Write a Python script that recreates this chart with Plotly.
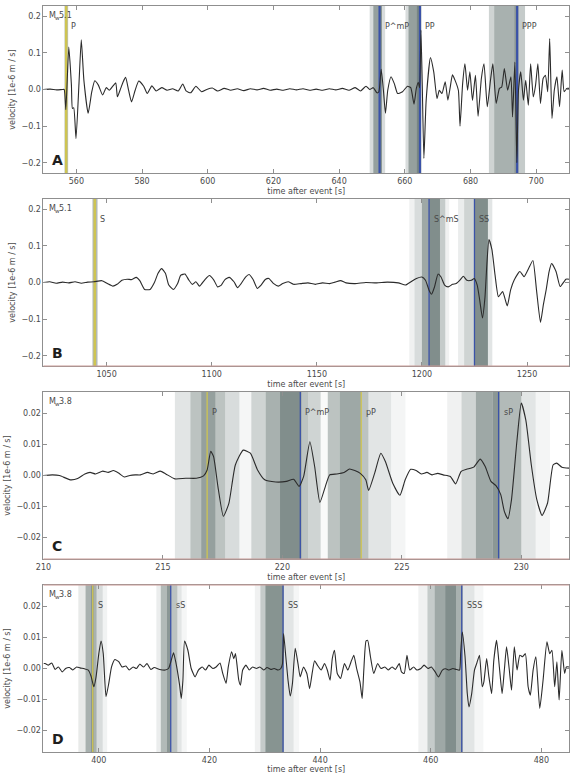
import plotly.graph_objects as go

# ---------------- Panel A (M_w 5.1, P phases) ----------------
A_time = [550.0, 552.0, 554.0, 555.8, 556.3, 556.8, 557.7, 558.5, 558.8, 559.2, 559.9, 560.8, 561.5, 562.3,
          563.6, 564.7, 565.6, 566.7, 568.0, 569.1, 570.0, 571.1, 572.0, 572.5, 573.5, 574.2, 575.0, 575.9,
          576.8, 577.9, 579.0, 580.5, 581.6, 583.0, 584.3, 586.0, 587.6, 589.3, 591.0, 592.4, 593.4, 594.8,
          596.4, 598.1, 599.7, 601.4, 603.0, 605.0, 607.0, 609.0, 611.0, 613.0, 615.0, 617.0, 619.0, 621.0,
          623.0, 625.0, 627.0, 629.0, 631.0, 633.0, 635.0, 637.0, 639.0, 641.0, 643.0, 644.9, 646.5, 648.2,
          649.3, 650.4, 651.5, 652.1, 652.8, 653.5, 654.1, 654.8, 655.8, 656.8, 657.8, 659.3, 660.8, 661.8,
          662.8, 663.5, 664.1, 664.5, 664.9, 665.3, 665.8, 666.5, 667.8, 668.8, 669.8, 670.5, 671.3, 672.3,
          673.1, 673.8, 674.5, 675.3, 676.3, 676.8, 677.6, 678.3, 679.1, 679.8, 680.6, 681.5, 682.3, 683.3,
          684.1, 685.1, 686.1, 686.8, 687.8, 688.8, 689.5, 690.3, 691.3, 692.3, 692.8, 693.5, 694.1, 694.6,
          695.3, 696.1, 696.8, 697.6, 698.3, 699.1, 699.8, 700.5, 701.3, 702.1, 702.8, 703.5, 704.1, 704.8,
          705.5, 706.3, 707.1, 707.9, 708.5, 709.3, 710.0]
A_vel = [0.0, 0.001, -0.001, 0.0, 0.0, -0.055, 0.116, 0.012, -0.052, -0.05, -0.134, 0.016, 0.136, 0.025,
         -0.065, -0.006, 0.024, 0.012, -0.015, 0.005, -0.002, 0.009, 0.018, -0.02, 0.003, 0.02, 0.033, -0.002,
         -0.034, -0.002, 0.023, 0.009, -0.011, 0.010, -0.004, 0.005, -0.002, 0.002, -0.004, 0.015, -0.004, -0.009,
         0.009, -0.006, 0.0, 0.004, -0.004, 0.003, -0.002, 0.002, -0.003, 0.002, -0.001, 0.003, -0.002, 0.001,
         -0.002, 0.002, -0.001, 0.002, -0.002, 0.001, -0.002, 0.002, -0.001, 0.003, -0.002, 0.005, -0.004, 0.009,
         0.0, 0.005, -0.009, -0.006, 0.055, -0.004, -0.065, -0.002, 0.035, 0.016, -0.011, -0.006, 0.009, 0.005,
         -0.04, 0.003, 0.02, 0.005, 0.162, 0.016, -0.188, -0.029, 0.087, 0.048, -0.025, -0.002, -0.011, 0.021,
         -0.029, 0.005, 0.04, 0.025, -0.002, -0.1, 0.016, 0.07, -0.002, 0.048, -0.03, 0.039, -0.073, 0.03,
         0.07, -0.047, 0.027, 0.07, -0.038, 0.003, 0.007, 0.057, -0.002, 0.035, -0.075, 0.075, -0.2, -0.002,
         0.048, -0.029, 0.025, -0.043, 0.07, -0.02, 0.012, 0.07, -0.038, 0.03, 0.039, -0.006, 0.139, -0.079,
         -0.002, 0.035, -0.047, 0.053, -0.006, 0.003, 0.003]
A_phase_names = ["P", "P^mP", "PP", "PPP"]
A_phase_times = [556.9, 652.3, 664.6, 694.2]
A_phase_colors = ["yellow", "blue", "blue", "blue"]
A_band_start = [556.4, 649.3, 650.4, 652.0, 653.0, 660.2, 661.1, 663.5, 664.6, 685.6, 687.2, 693.3, 694.6]
A_band_end = [557.5, 650.4, 652.0, 653.0, 654.0, 661.1, 663.5, 664.6, 665.2, 687.2, 693.3, 694.6, 696.6]
A_band_alpha = [0.35, 0.2, 0.55, 0.7, 0.2, 0.2, 0.55, 0.7, 0.2, 0.25, 0.45, 0.6, 0.3]

# ---------------- Panel B (M_w 5.1, S phases) ----------------
B_time = [1020.0, 1023.0, 1026.0, 1029.0, 1032.0, 1035.0, 1038.0, 1041.0, 1044.0, 1047.8, 1050.4, 1053.0,
          1055.0, 1057.3, 1059.8, 1062.0, 1064.1, 1065.8, 1068.1, 1070.7, 1072.7, 1074.5, 1076.2, 1078.0,
          1079.6, 1081.8, 1083.8, 1085.3, 1087.3, 1089.0, 1090.8, 1092.5, 1094.2, 1096.8, 1098.9, 1101.1,
          1102.8, 1104.6, 1106.3, 1108.3, 1110.6, 1112.3, 1114.0, 1116.1, 1117.8, 1119.7, 1121.7, 1123.5,
          1125.5, 1127.2, 1129.5, 1131.7, 1133.8, 1136.4, 1138.9, 1142.4, 1145.8, 1149.3, 1152.7, 1156.1,
          1158.7, 1161.3, 1163.9, 1168.2, 1173.3, 1178.5, 1183.6, 1188.8, 1192.2, 1194.8, 1197.4, 1200.0,
          1201.7, 1203.4, 1204.6, 1206.0, 1207.7, 1209.1, 1210.8, 1212.5, 1214.6, 1216.3, 1218.0, 1219.7,
          1221.4, 1223.5, 1224.9, 1226.3, 1227.5, 1228.8, 1230.0, 1230.9, 1231.9, 1233.3, 1234.8, 1236.4,
          1238.4, 1240.6, 1242.2, 1243.9, 1246.6, 1248.6, 1250.8, 1252.8, 1254.5, 1256.4, 1257.8, 1259.1,
          1260.5, 1261.7, 1263.8, 1265.8, 1268.5, 1270.0]
B_vel = [0.0, 0.002, -0.002, 0.001, -0.001, 0.002, -0.002, 0.001, 0.002, 0.005, -0.003, -0.01,
         -0.005, 0.006, 0.009, 0.008, 0.014, 0.005, -0.019, -0.019, -0.001, 0.025, 0.038, 0.025,
         -0.007, -0.019, -0.003, 0.02, 0.023, 0.008, -0.005, 0.002, -0.01, 0.008, 0.019, 0.006,
         -0.012, -0.007, 0.008, 0.014, 0.002, -0.014, -0.003, 0.015, 0.022, 0.008, -0.016, -0.007,
         0.008, 0.011, -0.003, -0.01, -0.003, 0.002, -0.005, -0.003, -0.001, -0.005, -0.001, -0.003,
         0.001, 0.005, -0.001, -0.003, 0.0, -0.001, 0.001, -0.001, -0.007, 0.002, 0.011, 0.015,
         0.006, -0.021, -0.032, -0.012, 0.023, 0.015, -0.007, -0.012, -0.005, -0.003, 0.006, 0.017,
         0.006, 0.006, 0.011, -0.007, -0.048, -0.097, -0.04, 0.05, 0.117, 0.09, 0.02, -0.039,
         -0.025, -0.064, -0.02, 0.007, 0.03, 0.016, 0.039, 0.06, -0.02, -0.109, -0.06, -0.02,
         0.03, 0.052, 0.03, -0.011, 0.009, 0.009]
B_phase_names = ["S", "S^mS", "SS"]
B_phase_times = [1044.4, 1203.4, 1225.0]
B_phase_colors = ["yellow", "blue", "blue"]
B_band_start = [1043.3, 1194.0, 1196.5, 1200.0, 1203.4, 1208.6, 1211.1, 1217.2, 1220.1, 1225.0, 1231.4]
B_band_end = [1045.7, 1196.5, 1200.0, 1203.4, 1208.6, 1211.1, 1213.0, 1220.1, 1225.0, 1231.4, 1233.5]
B_band_alpha = [0.4, 0.08, 0.2, 0.5, 0.65, 0.3, 0.08, 0.1, 0.25, 0.65, 0.15]

# ---------------- Panel C (M_w 3.8, P phases) ----------------
C_time = [210.0, 210.37, 210.67, 211.12, 211.43, 211.73, 211.95, 212.18, 212.48, 212.71, 212.93, 213.16,
          213.38, 213.61, 213.84, 214.06, 214.36, 214.59, 214.89, 215.12, 215.5, 215.95, 216.4, 216.7,
          216.85, 217.0, 217.12, 217.3, 217.53, 217.76, 218.03, 218.36, 218.66, 218.96, 219.26, 219.72,
          220.17, 220.47, 220.7, 220.89, 221.15, 221.35, 221.57, 221.8, 221.98, 222.28, 222.58, 222.81,
          223.03, 223.26, 223.49, 223.61, 223.86, 224.12, 224.31, 224.62, 224.92, 225.14, 225.37, 225.6,
          225.82, 226.05, 226.27, 226.5, 226.73, 227.03, 227.25, 227.48, 227.71, 228.01, 228.28, 228.49,
          228.73, 228.94, 229.14, 229.29, 229.44, 229.59, 229.82, 230.0, 230.19, 230.42, 230.65, 230.87,
          231.1, 231.33, 231.48, 231.7, 232.0]
C_vel = [0.0, 0.0002, 0.0, -0.0014, -0.001, 0.0005, 0.001, 0.0005, 0.0014, 0.001, 0.0016, 0.0007,
         -0.0005, 0.0, 0.0002, 0.0002, 0.001, 0.0005, 0.0014, 0.0005, -0.0011, -0.0009, -0.0009, -0.0001,
         0.0018, 0.0078, 0.0061, -0.0035, -0.0132, -0.009, 0.0034, 0.0082, 0.0072, 0.0018, -0.0014, -0.0021,
         -0.0019, -0.0012, -0.0035, -0.0003, 0.0109, 0.0029, -0.0087, -0.0035, 0.0002, 0.0005, 0.001, 0.0021,
         0.0016, 0.0007, -0.0014, -0.0048, 0.0007, 0.0072, 0.0045, -0.0025, -0.0064, -0.0014, 0.002, 0.0016,
         0.0005, 0.001, 0.0002, 0.0007, 0.0002, -0.0003, -0.0027, 0.0013, 0.002, 0.0027, 0.0053, 0.0029,
         -0.0019, -0.0033, -0.0062, -0.0116, -0.014, -0.0078, 0.0114, 0.0234, 0.0179, 0.0034, -0.0078, -0.0129,
         -0.0089, 0.0034, 0.004, 0.0027, 0.0024]
C_phase_names = ["P", "P^mP", "pP", "sP"]
C_phase_times = [216.85, 220.75, 223.3, 229.05]
C_phase_colors = ["yellow", "blue", "yellow", "blue"]
C_band_start = [215.5, 216.15, 216.6, 217.2, 217.6, 218.2, 218.7, 219.3, 219.9, 220.8, 221.07, 221.6, 221.9,
                222.4, 223.3, 223.6, 224.55, 226.9, 227.5, 228.1, 228.8, 229.1, 230.0, 230.6]
C_band_end = [216.15, 216.6, 217.2, 217.6, 218.2, 218.7, 219.3, 219.9, 220.8, 221.07, 221.6, 221.9, 222.4,
              223.3, 223.6, 224.55, 225.15, 227.5, 228.1, 228.8, 229.1, 230.0, 230.6, 231.2]
C_band_alpha = [0.15, 0.35, 0.55, 0.35, 0.2, 0.05, 0.25, 0.45, 0.65, 0.35, 0.25, 0.03, 0.35,
                0.5, 0.35, 0.15, 0.06, 0.08, 0.25, 0.5, 0.6, 0.4, 0.15, 0.06]

# ---------------- Panel D (M_w 3.8, S phases) ----------------
D_time = [390.0, 390.3, 390.9, 391.5, 392.1, 392.7, 393.4, 394.0, 394.7, 395.3, 396.0, 396.6, 397.4, 398.1,
          398.6, 399.1, 399.5, 400.0, 400.4, 400.8, 401.3, 401.8, 402.3, 402.9, 403.6, 404.2, 404.9, 405.5,
          406.2, 406.8, 407.4, 408.1, 408.7, 409.4, 410.0, 411.0, 412.0, 412.6, 413.1, 413.5, 413.9, 414.6,
          414.9, 415.2, 415.5, 416.1, 416.7, 417.4, 418.0, 418.7, 419.3, 419.9, 420.6, 421.2, 421.9, 422.4,
          423.0, 423.4, 424.0, 424.4, 424.7, 425.3, 425.6, 426.0, 426.6, 427.2, 427.8, 428.5, 429.1, 429.8,
          430.4, 431.1, 431.7, 432.4, 432.9, 433.2, 433.4, 433.8, 434.2, 434.6, 435.0, 435.5, 436.0, 436.4,
          437.0, 437.6, 438.1, 438.6, 439.0, 439.5, 440.2, 440.8, 441.3, 441.8, 442.2, 442.6, 443.1, 443.7,
          444.4, 445.0, 445.7, 446.1, 446.6, 447.2, 447.6, 447.9, 448.3, 448.6, 449.1, 449.7, 450.4, 451.0,
          451.7, 452.3, 453.0, 453.6, 454.3, 454.7, 455.2, 455.7, 456.2, 456.9, 457.5, 458.2, 458.8, 459.5,
          460.1, 460.8, 461.4, 462.1, 462.7, 463.3, 464.0, 464.6, 465.2, 465.4, 465.7, 466.2, 466.6, 466.9,
          467.4, 467.9, 468.3, 468.8, 469.3, 469.6, 470.1, 470.5, 471.0, 471.4, 471.9, 472.4, 472.9, 473.3,
          473.7, 474.2, 474.6, 475.1, 475.6, 476.1, 476.6, 477.1, 477.6, 478.0, 478.5, 479.0, 479.7, 480.3,
          481.0, 481.5, 481.9, 482.4, 482.8, 483.2, 483.7, 484.2, 484.5, 485.0]
D_vel = [0.0016, 0.0016, 0.0011, 0.0018, -0.0003, 0.0005, -0.0011, 0.0, 0.0003, -0.0005, 0.0005, 0.0002, -0.0001, -0.0005,
         -0.0025, -0.0059, -0.0027, 0.0048, 0.0089, 0.0048, -0.0091, -0.0048, 0.0005, 0.0029, 0.0022, 0.0005, 0.0008, -0.0005,
         0.0005, 0.0, 0.0014, 0.0005, 0.0016, -0.0003, 0.0003, -0.0003, -0.0005, 0.0, 0.0027, 0.0051, 0.0022, -0.0054,
         -0.0097, -0.0038, 0.0089, 0.0059, 0.0, -0.0027, -0.0005, 0.0005, -0.0005, 0.0011, 0.0, 0.0005, 0.0018, -0.0016,
         -0.0048, 0.0005, 0.0054, 0.0032, 0.0048, -0.0038, -0.0054, -0.0005, 0.0011, -0.0005, 0.0005, 0.0, 0.0005, -0.0005,
         0.0003, -0.0003, 0.0, -0.0005, 0.0, 0.0016, 0.0113, 0.0038, -0.0038, -0.0089, -0.0048, 0.0065, 0.0016, -0.0027,
         0.0005, -0.0016, -0.0065, -0.0011, 0.0025, 0.0011, -0.0005, 0.0016, -0.0005, -0.0038, 0.0032, 0.0059, -0.0016, -0.0032,
         0.0016, -0.0005, 0.0027, 0.0043, 0.0, -0.0043, -0.0097, -0.0005, 0.0089, 0.0091, 0.0038, -0.0016, 0.0016, 0.0,
         0.0005, -0.0005, 0.0005, -0.0003, 0.0016, -0.0011, -0.0016, 0.0043, -0.0005, 0.0005, -0.0005, 0.0, 0.0011, 0.0,
         0.0005, -0.0011, -0.0027, -0.0005, -0.0001, -0.0005, 0.0, -0.0003, -0.0005, 0.0048, 0.0118, 0.0038, -0.0081, -0.0124,
         -0.0081, -0.0005, 0.0016, 0.0043, -0.0059, -0.0043, 0.0032, -0.0025, -0.0081, 0.0027, 0.0091, 0.0005, -0.0081, -0.0005,
         0.007, -0.0005, -0.007, 0.007, -0.0005, 0.0043, 0.0038, 0.0048, -0.0059, -0.0086, -0.0005, 0.0038, -0.0129, -0.0038,
         0.0086, 0.0048, 0.0059, -0.0059, 0.0022, -0.0102, 0.0059, -0.0016, 0.0005, 0.0005]
D_phase_names = ["S", "sS", "SS", "SSS"]
D_phase_times = [398.9, 413.0, 433.3, 465.6]
D_phase_colors = ["yellow", "blue", "blue", "blue"]
D_band_start = [396.3, 397.6, 398.5, 399.1, 399.6, 400.7, 410.4, 411.2, 412.3, 413.0, 414.2, 414.95,
                428.2, 429.2, 430.1, 433.4, 435.2, 457.75, 459.4, 460.7, 462.6, 464.6, 465.8, 467.9]
D_band_end = [397.6, 398.5, 399.1, 399.6, 400.7, 401.5, 411.2, 412.3, 413.0, 414.2, 414.95, 415.9,
              429.2, 430.1, 433.4, 435.2, 436.2, 459.4, 460.7, 462.6, 464.6, 465.8, 467.9, 469.5]
D_band_alpha = [0.12, 0.45, 0.6, 0.45, 0.2, 0.07, 0.1, 0.4, 0.6, 0.35, 0.15, 0.05,
                0.08, 0.3, 0.62, 0.15, 0.05, 0.08, 0.3, 0.5, 0.65, 0.45, 0.15, 0.05]

magnitude_values = ["5.1", "5.1", "3.8", "3.8"]
panel_letters = ["A", "B", "C", "D"]
x_ranges = [[550, 710], [1020, 1270], [210, 232], [390, 485]]
y_limits = [0.228, 0.228, 0.027, 0.027]
x_dticks = [20, 50, 5, 20]
y_dticks = [0.1, 0.1, 0.01, 0.01]
y_formats = [".1f", ".1f", ".2f", ".2f"]
label_heights = [0.173, 0.173, 0.0205, 0.0205]

# ---------------- figure ----------------
W, H = 574, 774
plot_left, plot_right = 36, 569
panel_tops = [6, 199, 392, 585]
panel_h = 167
red_spine = [None, 0, 0, 1]   # which spine of each panel is drawn reddish

times = [A_time, B_time, C_time, D_time]
vels = [A_vel, B_vel, C_vel, D_vel]
ph_names = [A_phase_names, B_phase_names, C_phase_names, D_phase_names]
ph_times = [A_phase_times, B_phase_times, C_phase_times, D_phase_times]
ph_cols = [A_phase_colors, B_phase_colors, C_phase_colors, D_phase_colors]
b_start = [A_band_start, B_band_start, C_band_start, D_band_start]
b_end = [A_band_end, B_band_end, C_band_end, D_band_end]
b_alpha = [A_band_alpha, B_band_alpha, C_band_alpha, D_band_alpha]

FONT = "DejaVu Sans"
TXT = "#4a4a4a"
SPINE = "#8f8f8f"
line_colors = {"blue": "rgb(58,82,168)", "yellow": "rgb(206,196,82)"}

fig = go.Figure()
shapes = []
annotations = []
for i in range(4):
    sfx = "" if i == 0 else str(i + 1)
    xa, ya = "x" + sfx, "y" + sfx
    top = panel_tops[i]
    ydom = [1 - (top + panel_h) / H, 1 - top / H]
    fig.add_trace(go.Scatter(x=times[i], y=vels[i], mode="lines", xaxis=xa, yaxis=ya,
                             line=dict(color="#2b2b2b", width=1.1, shape="spline", smoothing=0.5),
                             showlegend=False, hoverinfo="skip"))
    axis_common = dict(showline=True, linecolor=SPINE, linewidth=1, mirror="ticks", ticks="inside",
                       ticklen=4, tickcolor=SPINE, showgrid=False, zeroline=False,
                       tickfont=dict(family=FONT, size=8, color=TXT))
    fig.layout["xaxis" + sfx] = dict(domain=[plot_left / W, plot_right / W], anchor=ya, range=x_ranges[i],
                                     dtick=x_dticks[i], tick0=0,
                                     title=dict(text="time after event [s]", standoff=3,
                                                font=dict(family=FONT, size=8, color=TXT)),
                                     **axis_common)
    lim = y_limits[i]
    fig.layout["yaxis" + sfx] = dict(domain=ydom, anchor=xa, range=[-lim, lim], dtick=y_dticks[i], tick0=0,
                                     tickformat=y_formats[i],
                                     title=dict(text="velocity [1e-6 m / s]", standoff=4,
                                                font=dict(family=FONT, size=8, color=TXT)),
                                     **axis_common)
    ydref = ya + " domain"
    for s0, s1, a in zip(b_start[i], b_end[i], b_alpha[i]):
        shapes.append(dict(type="rect", xref=xa, yref=ydref, x0=s0, x1=s1, y0=0, y1=1,
                           fillcolor=f"rgba(62,82,78,{a})", line=dict(width=0), layer="below"))
    for name, t, c in zip(ph_names[i], ph_times[i], ph_cols[i]):
        w = 2.2 if (i == 0 and c == "blue") else (2.5 if (i < 2 and c == "yellow") else 1.3)
        shapes.append(dict(type="line", xref=xa, yref=ydref, x0=t, x1=t, y0=0, y1=1,
                           line=dict(color=line_colors[c], width=w), layer="below"))
        annotations.append(dict(x=t, y=label_heights[i], xref=xa, yref=ya, text=name, showarrow=False,
                                xanchor="left", yanchor="middle", xshift=3,
                                font=dict(family=FONT, size=8, color=TXT)))
    if red_spine[i] is not None:
        yy = red_spine[i]
        shapes.append(dict(type="line", xref=xa + " domain", yref=ydref, x0=0, x1=1, y0=yy, y1=yy,
                           line=dict(color="#c99a96", width=1), layer="above"))
    # magnitude label: "M" with a small subscript "w", then the value
    annotations.append(dict(x=0.006, y=0.985, xref=xa + " domain", yref=ydref, text="M",
                            showarrow=False, xanchor="left", yanchor="top",
                            font=dict(family=FONT, size=8, color=TXT)))
    annotations.append(dict(x=0.006, y=0.985, xref=xa + " domain", yref=ydref, text="w",
                            showarrow=False, xanchor="left", yanchor="top", xshift=6.5, yshift=-4,
                            font=dict(family=FONT, size=5.5, color=TXT)))
    annotations.append(dict(x=0.006, y=0.985, xref=xa + " domain", yref=ydref, text=magnitude_values[i],
                            showarrow=False, xanchor="left", yanchor="top", xshift=10.5,
                            font=dict(family=FONT, size=8, color=TXT)))
    annotations.append(dict(x=0.012, y=0.02, xref=xa + " domain", yref=ydref, text=panel_letters[i],
                            showarrow=False, xanchor="left", yanchor="bottom",
                            font=dict(family=FONT, size=14, color="#1e1e1e", weight="bold")))

fig.update_layout(width=W, height=H, margin=dict(l=0, r=0, t=0, b=0), paper_bgcolor="white",
                  plot_bgcolor="white", shapes=shapes, annotations=annotations,
                  font=dict(family=FONT, size=8, color=TXT))
fig.write_html("out.html")
